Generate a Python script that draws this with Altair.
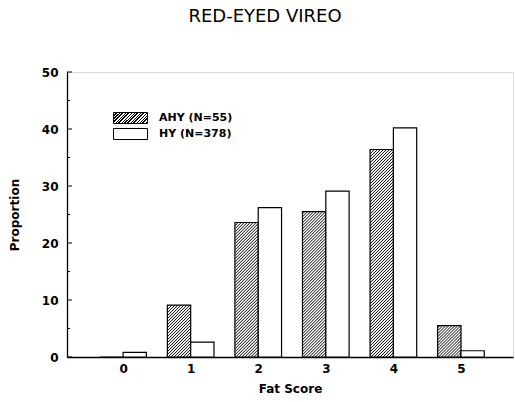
import altair as alt
import pandas as pd

# ---- data ----
scores = [0, 1, 2, 3, 4, 5]
ahy = [0.0, 9.1, 23.6, 25.5, 36.4, 5.5]
hy = [0.8, 2.6, 26.2, 29.1, 40.2, 1.1]
groups = ["AHY (N=55)", "HY (N=378)"]
y_ticks = [0, 10, 20, 30, 40, 50]
y_minor = [5, 15, 25, 35, 45]

# ---- layout ----
X_DOMAIN = [-0.83, 5.77]
Y_DOMAIN = [0, 50]
W, H = 446, 285
BW = 0.345
FONT = "DejaVu Sans"

px_x = W / (X_DOMAIN[1] - X_DOMAIN[0])
px_y = H / (Y_DOMAIN[1] - Y_DOMAIN[0])

rows = []
for s, a, h in zip(scores, ahy, hy):
    rows.append(dict(score=s, group=groups[0], x0=s - BW, x1=s, value=a))
    rows.append(dict(score=s, group=groups[1], x0=s, x1=s + BW, value=h))
bars = pd.DataFrame(rows)

# hatch lines for the AHY bars, derived from the bar values
PER = 3.0
hatch = []
for r in rows:
    if r["group"] != groups[0] or r["value"] <= 0:
        continue
    w = (r["x1"] - r["x0"]) * px_x
    h = r["value"] * px_y
    c = -w + PER / 2
    while c < h:
        xa = max(0.0, -c)
        xb = min(w, h - c)
        if xb > xa:
            hatch.append(dict(x=r["x0"] + xa / px_x, y=(xa + c) / px_y,
                              x2=r["x0"] + xb / px_x, y2=(xb + c) / px_y))
        c += PER
hatch_df = pd.DataFrame(hatch)

# gradient-stripe fill for the legend swatch (34 x 11 px)
sw, sh, k = 34.0, 11.0, 1.3
period = PER * sw / (k * (sw * sw + sh * sh))
stops = []
o = 0.0
while o < 1.0:
    b = o + period * 0.45
    e = o + period
    stops += [f"{{offset:{o:.4f},color:'black'}}", f"{{offset:{min(b,1):.4f},color:'black'}}",
              f"{{offset:{min(b,1):.4f},color:'white'}}", f"{{offset:{min(e,1):.4f},color:'white'}}"]
    o = e
grad_expr = ("{gradient:'linear',x1:0,y1:0,x2:%.4f,y2:%.4f,stops:[%s]}"
             % (k, k * sh / sw, ",".join(stops)))

# legend swatch path: 34 x 11 px with a small nominal symbol size
SYM = 11.0
half = SYM / 2
sym_path = "M%.3f,%.3fH%.3fV%.3fH%.3fZ" % (-17 / half, -5.5 / half, 17 / half, 5.5 / half, -17 / half)

xsc = alt.Scale(domain=X_DOMAIN, nice=False, zero=False)
ysc = alt.Scale(domain=Y_DOMAIN, nice=False)

x_axis = alt.Axis(values=scores, format="d", title="Fat Score", tickSize=0, grid=False,
                  labelPadding=6, titlePadding=9, domainColor="black", domainWidth=1.3,
                  labelFont=FONT, labelFontSize=12, labelFontWeight="bold", labelColor="black",
                  titleFont=FONT, titleFontSize=12, titleFontWeight="bold", titleColor="black")
y_axis = alt.Axis(values=y_ticks, format="d", title="Proportion", tickSize=0, grid=False,
                  labelPadding=9, titlePadding=20, domainColor="black", domainWidth=1.3,
                  labelFont=FONT, labelFontSize=12, labelFontWeight="bold", labelColor="black",
                  titleFont=FONT, titleFontSize=12, titleFontWeight="bold", titleColor="black")

bar_layer = alt.Chart(bars).mark_bar(fill="white", stroke="black", strokeWidth=1.2).encode(
    x=alt.X("x0:Q", scale=xsc, axis=x_axis),
    x2="x1:Q",
    y=alt.Y("value:Q", scale=ysc, axis=y_axis),
    y2=alt.datum(0),
)

hatch_layer = alt.Chart(hatch_df).mark_rule(color="black", strokeWidth=1).encode(
    x=alt.X("x:Q", scale=xsc), x2="x2:Q",
    y=alt.Y("y:Q", scale=ysc), y2="y2:Q",
)

major = alt.Chart(pd.DataFrame({"v": y_ticks})).mark_rule(color="black", strokeWidth=1).encode(
    y=alt.Y("v:Q", scale=ysc), x=alt.value(0), x2=alt.value(5))
minor = alt.Chart(pd.DataFrame({"v": y_minor})).mark_rule(color="black", strokeWidth=1).encode(
    y=alt.Y("v:Q", scale=ysc), x=alt.value(0), x2=alt.value(3))

legend_layer = alt.Chart(bars).mark_point(size=0, filled=True).encode(
    x=alt.X("x0:Q", scale=xsc), y=alt.Y("value:Q", scale=ysc),
    fill=alt.Fill("group:N",
                  scale=alt.Scale(domain=groups, range=[{"expr": grad_expr}, "white"]),
                  legend=alt.Legend(title=None, orient="none", legendX=46 + 17 - half,
                                    legendY=40, padding=0,
                                    symbolType=sym_path, symbolSize=SYM * SYM,
                                    symbolStrokeColor="black", symbolStrokeWidth=1,
                                    symbolOpacity=1, labelFont=FONT, labelFontSize=11,
                                    labelFontWeight="bold", labelColor="black",
                                    labelOffset=45 - 17 - half, rowPadding=0)),
)

chart = alt.layer(bar_layer, hatch_layer, major, minor, legend_layer).properties(
    width=W, height=H,
    title=alt.TitleParams("RED-EYED VIREO", font=FONT, fontSize=18, fontWeight="normal",
                          color="black", anchor="middle", dx=-25, offset=40),
    autosize=alt.AutoSizeParams(type="none"),
    padding={"left": 67, "top": 72, "right": 2, "bottom": 45},
).configure_view(stroke=None).configure(background="white")

chart.save("out.html", embed_options={"renderer": "svg", "actions": False})
